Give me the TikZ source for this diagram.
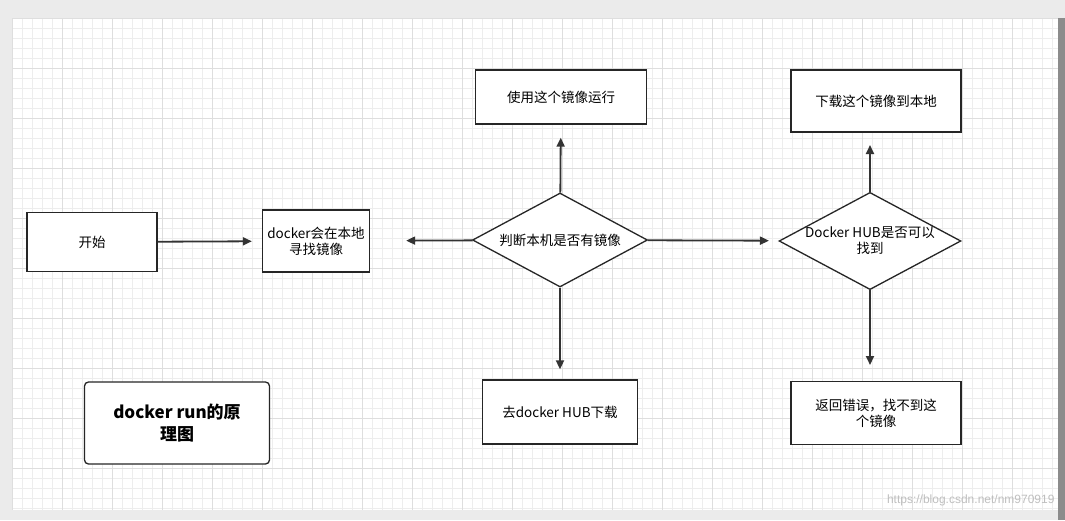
\documentclass[tikz,border=0pt]{standalone}
\usepackage{fontspec}
\setmainfont{Liberation Sans}
\newfontfamily\cjk{Noto Sans CJK SC}
\usetikzlibrary{shapes.geometric,arrows.meta}
\begin{document}
\begin{tikzpicture}[x=1pt,y=-1pt,
  box/.style={draw=black!85,line width=1.3pt,fill=white,minimum height=#1,align=center,font=\cjk\fontsize{13.5}{16}\selectfont,inner sep=2pt},
  dia/.style={draw=black!85,line width=1.3pt,fill=white,diamond,aspect=1.87,minimum width=175pt,minimum height=94pt,inner sep=0pt,align=center,font=\cjk\fontsize{13.5}{16}\selectfont},
  arr/.style={line width=1.8pt,draw=black!80,-{Triangle[length=9pt,width=8pt]}}]
\useasboundingbox (0,0) rectangle (1065,520);
\fill[black!8] (0,0) rectangle (1065,520);
\fill[white] (12,18) rectangle (1058,510);
\foreach \x in {12,22,...,1058} \draw[black!7,line width=0.5pt] (\x,18) -- (\x,510);
\foreach \y in {18,28,...,510} \draw[black!7,line width=0.5pt] (12,\y) -- (1058,\y);
\foreach \x in {12,62,...,1058} \draw[black!13,line width=0.6pt] (\x,18) -- (\x,510);
\foreach \y in {18,68,...,510} \draw[black!13,line width=0.6pt] (12,\y) -- (1058,\y);
\fill[black!45] (1058,18) rectangle (1065,520);

\node[box=59pt,minimum width=130pt] (start) at (92,242) {开始};
\node[box=62pt,minimum width=107pt] (local) at (316,241) {docker会在本地\\寻找镜像};
\node[dia] (d1) at (560,240) {判断本机是否有镜像};
\node[box=54pt,minimum width=171pt] (run) at (561,97) {使用这个镜像运行};
\node[box=64pt,minimum width=155pt] (hub) at (560,412) {去docker HUB下载};
\node[dia] (d2) at (870,241) {Docker HUB是否可以\\找到};
\node[box=62pt,minimum width=170pt] (dl) at (876,101) {下载这个镜像到本地};
\node[box=63pt,minimum width=170pt] (err) at (876,413) {返回错误，找不到这\\个镜像};
\node[draw=black!85,line width=1.3pt,rounded corners=4pt,fill=white,minimum width=185pt,minimum height=82pt,align=center,font=\cjk\bfseries\fontsize{17}{22}\selectfont] (title) at (177,423) {docker run的原\\理图};

\draw[arr,shorten >=10pt] (start) -- (local);
\draw[arr,shorten >=36pt] (d1) -- (local);
\draw[arr,shorten >=13pt] (d1) -- (run);
\draw[arr,shorten >=10pt] (d1) -- (hub);
\draw[arr,shorten >=10pt] (d1) -- (d2);
\coordinate (up2) at (870,145);
\coordinate (dn2) at (870,365);
\draw[arr] (d2.north) -- (up2);
\draw[arr] (d2.south) -- (dn2);

\node[anchor=east,text=black!25,font=\fontsize{12}{14}\selectfont] (wm) at (1058,500) {https://blog.csdn.net/nm970919};
\end{tikzpicture}
\end{document}
